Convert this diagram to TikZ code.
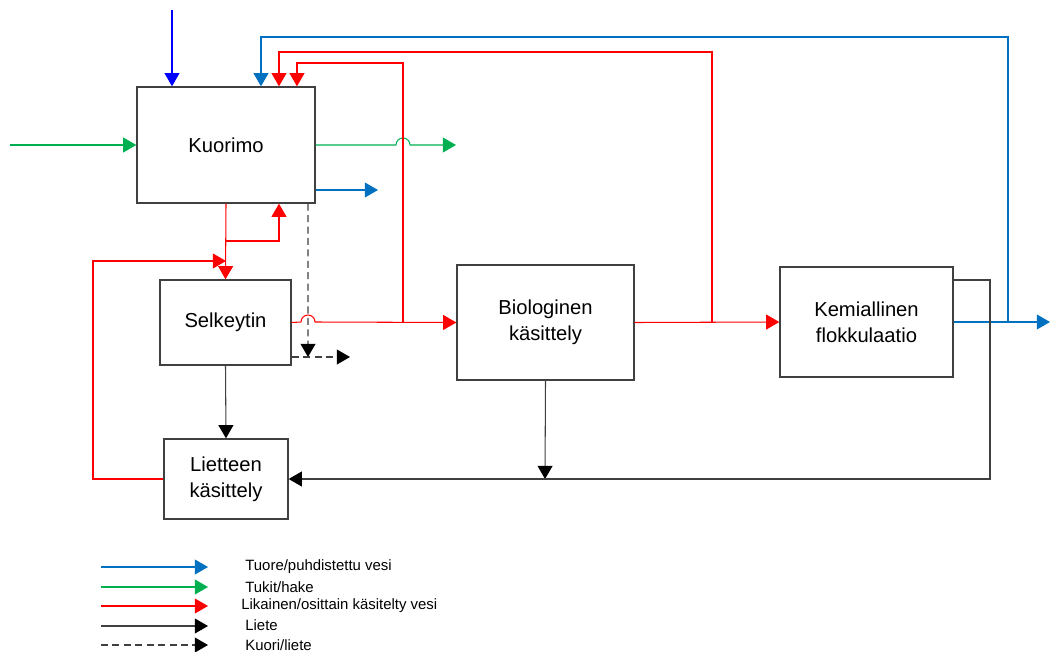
\documentclass[tikz,border=0pt]{standalone}
\usepackage{fontspec}
\setmainfont{Liberation Sans}
\usetikzlibrary{arrows.meta,positioning}
\definecolor{feedblue}{HTML}{0070C0}
\definecolor{chipgreen}{HTML}{00B050}
\definecolor{dirtyred}{HTML}{FF0000}
\definecolor{sludgegray}{HTML}{404040}

\begin{document}
\begin{tikzpicture}[x=0.02cm, y=-0.02cm,
    tip/.style={-{Triangle[length=7.5pt,width=8.5pt,#1]}},
    tip/.default={},
    unit/.style={draw=sludgegray, line width=0.8pt, align=center,
      font=\fontsize{11.5}{15}\selectfont, inner sep=0pt},
    bluein/.style={tip, draw=blue, line width=0.6pt},
    water/.style={tip, draw=feedblue, line width=0.6pt},
    chips/.style={tip, draw=chipgreen, line width=0.6pt},
    dirty/.style={tip, draw=dirtyred, line width=0.6pt},
    sludge/.style={tip={black}, draw=sludgegray, line width=0.6pt},
    bark/.style={tip={black}, draw=sludgegray, line width=0.6pt, dash pattern=on 4pt off 2.5pt},
    legtext/.style={anchor=west, inner sep=0pt, font=\fontsize{8.5}{10}\selectfont}]
  \useasboundingbox (0,0) rectangle (1051,652);

  % Process units
  \node[unit, minimum width=3.56cm, minimum height=2.32cm] (kuorimo) at (226,145) {Kuorimo};
  \node[unit, minimum width=2.62cm, minimum height=1.70cm] (selkeytin) at (225.5,322.5) {Selkeytin};
  \node[unit, minimum width=3.54cm, minimum height=2.30cm] (bio) at (545.5,322.5) {Biologinen\\käsittely};
  \node[unit, minimum width=3.46cm, minimum height=2.20cm] (kemia) at (866.5,322) {Kemiallinen\\flokkulaatio};
  \node[unit, minimum width=2.48cm, minimum height=1.60cm] (liete) at (226,479) {Lietteen\\käsittely};

  % Free ends and junctions
  \coordinate (inTop) at (172,10);
  \coordinate (inGreen) at (10,145);
  \coordinate (outGreen) at (456,145);
  \coordinate (outBlue) at (378,190);
  \coordinate (outKemia) at (1050,322);
  \coordinate (outBark) at (350,357);
  \coordinate (jBio) at (403,322);
  \coordinate (jKemia) at (712,322);
  \coordinate (jOut) at (1008,322);
  \coordinate (jUp) at (226,241);
  \coordinate (jBack) at (226,261);
  \coordinate (jSludge) at (545,479);
  \coordinate (topBlue) at (0,37);
  \coordinate (topRedA) at (0,52);
  \coordinate (topRedB) at (0,63);

  % Inputs and outputs of Kuorimo
  \draw[bluein] (inTop) -- (inTop |- kuorimo.north);
  \draw[chips] (inGreen) -- (kuorimo.west);
  \draw[chips] (kuorimo.east) -- (396,145) arc[start angle=180, end angle=360, radius=7] -- (outGreen);
  \draw[water] (kuorimo.east |- outBlue) -- (outBlue);

  % Main water line
  \draw[dirty] (kuorimo.south) -- (selkeytin.north);
  \draw[dirty] (jUp) -| ([xshift=1.06cm]kuorimo.south);
  \draw[dirty] (selkeytin.east) -- (301,322) arc[start angle=180, end angle=360, radius=7] -- (bio.west);
  \draw[dirty] (bio.east) -- (kemia.west);
  \draw[water] (kemia.east) -- (outKemia);

  % Recycle lines
  \draw[water] (jOut) -- (jOut |- topBlue) -| ([xshift=0.7cm]kuorimo.north);
  \draw[dirty] (jKemia) -- (jKemia |- topRedA) -| ([xshift=1.06cm]kuorimo.north);
  \draw[dirty] (jBio) -- (jBio |- topRedB) -| ([xshift=1.42cm]kuorimo.north);
  \draw[dirty] (liete.west) -- (93,479) |- (jBack);

  % Bark and sludge
  \draw[bark] ([xshift=1.64cm]kuorimo.south) -- (308,357);
  \draw[bark] (selkeytin.east |- outBark) -- (outBark);
  \draw[sludge] (selkeytin.south) -- (liete.north);
  \draw[sludge] (bio.south) -- (jSludge);
  \draw[sludge] ([yshift=0.84cm]kemia.east) -| (990,479) -- (liete.east);

  % Legend
  \draw[water] (101,567) -- (208,567);
  \draw[chips] (101,587) -- (208,587);
  \draw[dirty] (101,606) -- (208,606);
  \draw[sludge] (101,626) -- (208,626);
  \draw[bark] (101,645) -- (208,645);
  \node[legtext] (legWater) at (245,567) {Tuore/puhdistettu vesi};
  \node[legtext] (legChips) at (245,587) {Tukit/hake};
  \node[legtext] (legDirty) at (241,606) {Likainen/osittain käsitelty vesi};
  \node[legtext] (legSludge) at (245,625) {Liete};
  \node[legtext] (legBark) at (245,645) {Kuori/liete};
\end{tikzpicture}
\end{document}
